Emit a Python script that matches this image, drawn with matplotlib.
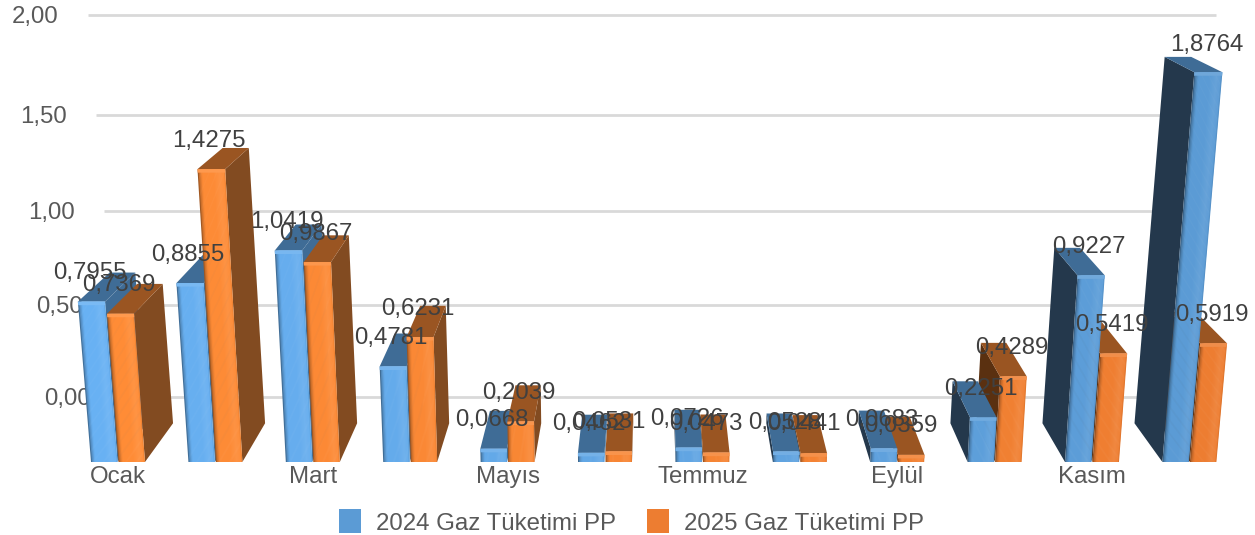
import numpy as np
import matplotlib
matplotlib.use("Agg")
import matplotlib.pyplot as plt
from matplotlib.collections import PolyCollection
from matplotlib.colors import to_rgb
from matplotlib.patches import Patch

plt.rcParams["font.family"] = ["Liberation Sans", "DejaVu Sans"]

# DATA
months = ["Ocak", "Şubat", "Mart", "Nisan", "Mayıs", "Haziran", "Temmuz",
          "Ağustos", "Eylül", "Ekim", "Kasım", "Aralık"]
shown_months = ["Ocak", "Mart", "Mayıs", "Temmuz", "Eylül", "Kasım"]
gas_2024 = [0.7955, 0.8855, 1.0419, 0.4781, 0.0668, 0.0462,
            0.0726, 0.0528, 0.0683, 0.2251, 0.9227, 1.8764]
gas_2025 = [0.7369, 1.4275, 0.9867, 0.6231, 0.2039, 0.0531,
            0.0473, 0.0441, 0.0359, 0.4289, 0.5419, 0.5919]
y_ticks = [0.0, 0.5, 1.0, 1.5, 2.0]
series_names = ["2024 Gaz Tüketimi PP", "2025 Gaz Tüketimi PP"]

# LAYOUT (pixels per unit)
W, H = 1255, 535
BASE_PX = 462
PX_X = 97.4
PX_Y = 197
X0 = 118
BAR_W = 26.5 / PX_X
FS = 17.3

# 3D LOOK
CURVE = 0.029
XC_DEPTH = (655 - X0) / PX_X
XC_LEAN = (627 - X0) / PX_X
LEAN = PX_Y / 6537
DEPTH_X = 0.055
DEPTH_Y_SCALE = 0.94
DEPTH_Y_SHIFT = 0.1966


def height(v):
    return v * (1 + CURVE * v)


def front(x, y):
    return XC_LEAN + (x - XC_LEAN) * (1 + LEAN * y), y


def back(x, y):
    fx, fy = front(x, y)
    return fx + DEPTH_X * (XC_DEPTH - fx), DEPTH_Y_SHIFT + DEPTH_Y_SCALE * fy


def wall(x, v):
    y = 0.33 + 0.916 * height(v)
    return XC_LEAN + (x - XC_LEAN) * (1 + LEAN * y) * 0.981, y


def mix(c, f):
    c = np.array(to_rgb(c))
    return tuple(np.clip(c * f, 0, 1)) if f <= 1 else tuple(np.clip(c + (1 - c) * (f - 1), 0, 1))


def lerp(a, b, t):
    return tuple(np.array(to_rgb(a)) * (1 - t) + np.array(to_rgb(b)) * t)


# brightness across the front of a bar, left to right
PROFILE_AT = [0.0, 0.06, 0.16, 0.55, 0.8, 0.94, 1.0]
PROFILE = [0.55, 0.8, 1.0, 1.0, 1.07, 1.03, 0.9]
N_STRIPS = 24

styles = {
    0: dict(left="#68B1F3", right="#5B9BD5", top="#3F6C96", side_l="#3F6C96", side_r="#24384C"),
    1: dict(left="#FF8C36", right="#ED7D31", top="#9A5522", side_l="#824B21", side_r="#5A3010"),
}


def draw_bar(ax, left, v, s, t, zorder):
    right = left + BAR_W
    y = height(v)
    # side face, towards the centre of the picture
    if back(right, 0)[0] > front(right, 0)[0]:
        ax.fill(*zip(front(right, 0), back(right, 0), back(right, y), front(right, y)),
                color=s["side_l"], lw=0, zorder=zorder)
    if back(left, 0)[0] < front(left, 0)[0]:
        ax.fill(*zip(front(left, 0), back(left, 0), back(left, y), front(left, y)),
                color=s["side_r"], lw=0, zorder=zorder)
    # top face
    ax.fill(*zip(front(left, y), back(left, y), back(right, y), front(right, y)),
            color=s["top"], lw=0, zorder=zorder)
    # front face, thin vertical strips for the bevel
    base = lerp(s["left"], s["right"], t)
    polys, cols = [], []
    for k in range(N_STRIPS):
        a = left + BAR_W * k / N_STRIPS
        b = left + BAR_W * (k + 1.6) / N_STRIPS if k < N_STRIPS - 1 else right
        polys.append([front(a, 0), front(b, 0), front(b, y), front(a, y)])
        cols.append(mix(base, np.interp((k + 0.5) / N_STRIPS, PROFILE_AT, PROFILE)))
    ax.add_collection(PolyCollection(polys, facecolors=cols, edgecolors="none", zorder=zorder))
    # light rim along the top edge
    rim = min(y, 3.5 / PX_Y)
    ax.fill(*zip(front(left, y - rim), front(right, y - rim), front(right, y), front(left, y)),
            color=mix(base, 1.12), lw=0, zorder=zorder)


fig = plt.figure(figsize=(W / 100, H / 100), dpi=100)
ax = fig.add_axes([0, (H - BASE_PX) / H, 1, BASE_PX / H])
ax.set_xlim(-X0 / PX_X, (W - X0) / PX_X)
ax.set_ylim(0, BASE_PX / PX_Y)

for sp in ax.spines.values():
    sp.set_visible(False)
ax.set_yticks([])
ax.set_xticks([i for i, m in enumerate(months) if m in shown_months])
ax.set_xticklabels(shown_months, fontsize=FS, color="#595959")
ax.tick_params(axis="x", length=0, pad=3.2)

# back wall grid and value labels
for v in y_ticks:
    xa, ya = wall(-0.05, v)
    xb, yb = wall(11.0, v)
    ax.plot([xa, xb], [ya, yb], color="#D9D9D9", lw=2, zorder=1, clip_on=False, solid_capstyle="butt")
    ax.text(xa - (27 + 1.5 * v) / PX_X, ya - 2 / PX_Y, f"{v:.2f}".replace(".", ","), fontsize=FS,
            color="#595959", ha="right", va="center", zorder=1)

# paint from the outside of the picture towards the centre
order = sorted(range(len(months)), key=lambda i: -abs(i - XC_DEPTH))
z = 3
for i in order:
    t = i / (len(months) - 1)
    pairs = [(i - BAR_W - 0.005, gas_2024[i], styles[0]), (i + 0.005, gas_2025[i], styles[1])]
    if i > XC_DEPTH:
        pairs = pairs[::-1]
    for left, v, s in pairs:
        draw_bar(ax, left, v, s, t, z)
        z += 1

# data labels sit around the back edge of each bar top
for i in range(len(months)):
    for k, (left, v) in enumerate([(i - BAR_W - 0.005, gas_2024[i]), (i + 0.005, gas_2025[i])]):
        x = front(left + BAR_W / 2, height(v))[0] - 2 / PX_X
        if k == 1 and v < 0.1:
            x -= 8 / PX_X
        yb = back(left, height(v))[1]
        yb_px = BASE_PX - PX_Y * yb
        off_px = -13 + 0.0588 * (yb_px - 55)
        lab = f"{v:.4f}".replace(".", ",")
        ax.text(x, yb - (off_px + 1) / PX_Y, lab, fontsize=FS, color="#404040",
                ha="center", va="center", zorder=100)

handles = [Patch(facecolor="#5B9BD5", edgecolor="none"), Patch(facecolor="#ED7D31", edgecolor="none")]
ax.legend(handles, series_names, loc="center", bbox_to_anchor=(631.5 / W, -60 / BASE_PX), ncol=2,
          frameon=False, fontsize=FS, labelcolor="#595959", handlelength=0.92, handleheight=1.15,
          handletextpad=0.62, columnspacing=1.27)

fig.savefig("out.png", dpi=100)
